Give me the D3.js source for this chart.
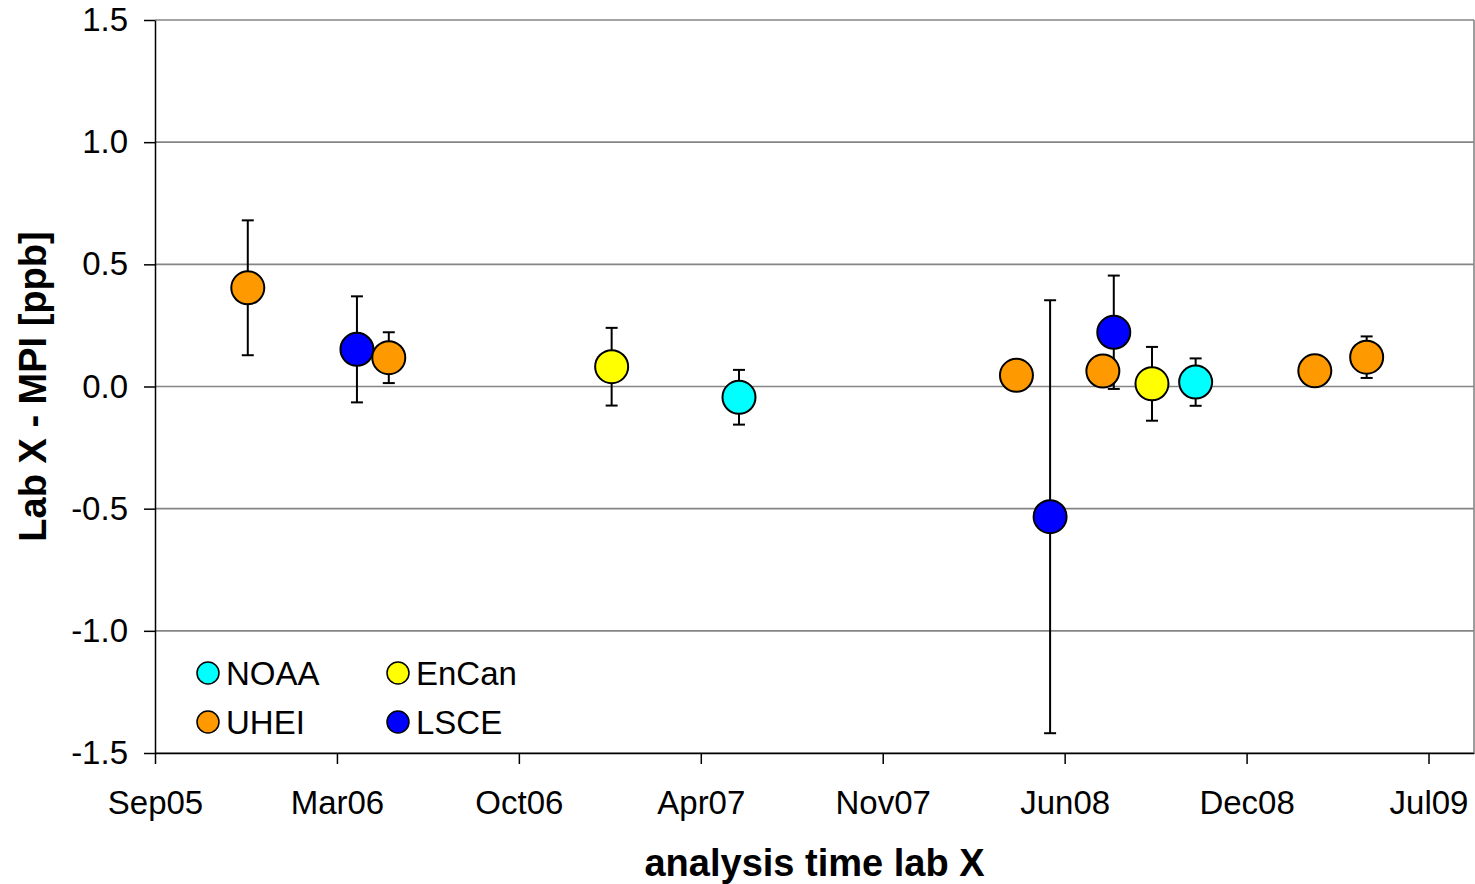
<!DOCTYPE html>
<html>
<head>
<meta charset="utf-8">
<script src="https://cdn.jsdelivr.net/npm/d3@7"></script>
<style>
  html, body { margin: 0; padding: 0; background: #fff; }
  svg { display: block; font-family: "Liberation Sans", Arial, sans-serif; }
</style>
</head>
<body>
<svg id="chart" width="1475" height="884"></svg>
<script>
// Inter-laboratory comparison: Lab X minus MPI, with ±1σ error bars
const seriesNames  = ["NOAA", "EnCan", "UHEI", "LSCE"];
const seriesColors = ["#00FFFF", "#FFFF00", "#FF9900", "#0000FF"];

const noaaDates  = ["2007-06-10", "2008-10-24"];
const noaaValues = [-0.044, 0.018];
const noaaErrors = [0.112, 0.097];

const encanDates  = ["2007-01-21", "2008-09-06"];
const encanValues = [0.081, 0.011];
const encanErrors = [0.159, 0.151];

const uheiDates  = ["2005-12-17", "2006-05-21", "2008-04-10", "2008-07-14", "2009-03-04", "2009-04-30"];
const uheiValues = [0.404, 0.118, 0.046, 0.063, 0.064, 0.120];
const uheiErrors = [0.276, 0.104, null, null, null, 0.085];

const lsceDates  = ["2006-04-16", "2008-05-17", "2008-07-26"];
const lsceValues = [0.152, -0.533, 0.222];
const lsceErrors = [0.217, 0.886, 0.232];

const yTickValues = [-1.5, -1.0, -0.5, 0.0, 0.5, 1.0, 1.5];
const yTickLabels = ["-1.5", "-1.0", "-0.5", "0.0", "0.5", "1.0", "1.5"];
const xTickLabels = ["Sep05", "Mar06", "Oct06", "Apr07", "Nov07", "Jun08", "Dec08", "Jul09"];
const xStart = "2005-09-06";   // first date-axis tick
const xStepDays = 200;         // date-axis major unit
const xSpanDays = 1450;        // axis length in days

const xTitle = "analysis time lab X";
const yTitle = "Lab X - MPI [ppb]";

const parse = d3.utcParse("%Y-%m-%d");
function build(name, dates, values, errors) {
  return dates.map((d, i) => ({ series: name, date: parse(d), value: values[i], err: errors[i] }));
}
const data = {
  NOAA: build("NOAA", noaaDates, noaaValues, noaaErrors),
  EnCan: build("EnCan", encanDates, encanValues, encanErrors),
  UHEI: build("UHEI", uheiDates, uheiValues, uheiErrors),
  LSCE: build("LSCE", lsceDates, lsceValues, lsceErrors)
};
const color = d3.scaleOrdinal().domain(seriesNames).range(seriesColors);

const svg = d3.select("#chart");
const plotLeft = 155, plotRight = 1474, plotTop = 20, plotBottom = 753;

const t0 = parse(xStart);
const x = d3.scaleUtc()
  .domain([t0, d3.utcDay.offset(t0, xSpanDays)])
  .range([plotLeft, plotRight]);
const xTickDates = xTickLabels.map((_, i) => d3.utcDay.offset(t0, xStepDays * i));

const y = d3.scaleLinear().domain([-1.5, 1.5]).range([plotBottom, plotTop]);

// horizontal gridlines
svg.append("g")
  .selectAll("line")
  .data(yTickValues)
  .join("line")
  .attr("x1", plotLeft).attr("x2", plotRight)
  .attr("y1", d => y(d)).attr("y2", d => y(d))
  .attr("stroke", "#858585")
  .attr("stroke-width", 1.6);

// right plot-area border
svg.append("line")
  .attr("x1", plotRight).attr("x2", plotRight)
  .attr("y1", plotTop).attr("y2", plotBottom)
  .attr("stroke", "#858585")
  .attr("stroke-width", 1.6);

// y axis
const yAxis = svg.append("g")
  .attr("transform", `translate(${plotLeft},0)`)
  .call(d3.axisLeft(y)
    .tickValues(yTickValues)
    .tickSize(11)
    .tickSizeOuter(0)
    .tickPadding(16)
    .tickFormat((d, i) => yTickLabels[i]));
yAxis.select(".domain").attr("stroke", "#000").attr("stroke-width", 1.5);
yAxis.selectAll(".tick line").attr("stroke", "#000").attr("stroke-width", 1.5);
yAxis.selectAll(".tick text")
  .attr("font-size", 33)
  .attr("fill", "#000")
  .attr("font-family", "Liberation Sans, Arial, sans-serif");

// x axis
const xAxis = svg.append("g")
  .attr("transform", `translate(0,${plotBottom})`)
  .call(d3.axisBottom(x)
    .tickValues(xTickDates)
    .tickSize(11)
    .tickSizeOuter(0)
    .tickPadding(27)
    .tickFormat((d, i) => xTickLabels[i]));
xAxis.select(".domain").attr("stroke", "#000").attr("stroke-width", 1.5);
xAxis.selectAll(".tick line").attr("stroke", "#000").attr("stroke-width", 1.5);
xAxis.selectAll(".tick text")
  .attr("font-size", 33)
  .attr("fill", "#000")
  .attr("font-family", "Liberation Sans, Arial, sans-serif");

// axis titles
svg.append("text")
  .attr("x", (plotLeft + plotRight) / 2)
  .attr("y", 876)
  .attr("text-anchor", "middle")
  .attr("font-size", 38)
  .attr("font-weight", "bold")
  .text(xTitle);

svg.append("text")
  .attr("transform", `translate(46,${(plotTop + plotBottom) / 2}) rotate(-90)`)
  .attr("text-anchor", "middle")
  .attr("font-size", 38)
  .attr("font-weight", "bold")
  .text(yTitle);

// error bars (drawn beneath all markers)
const capHalf = 6;
const allPoints = seriesNames.flatMap(s => data[s]).filter(d => d.err != null);
const eb = svg.append("g").attr("stroke", "#000").attr("stroke-width", 2);
eb.selectAll("line.stem")
  .data(allPoints)
  .join("line")
  .attr("class", "stem")
  .attr("x1", d => x(d.date)).attr("x2", d => x(d.date))
  .attr("y1", d => y(d.value - d.err)).attr("y2", d => y(d.value + d.err));
eb.selectAll("line.capTop")
  .data(allPoints)
  .join("line")
  .attr("class", "capTop")
  .attr("x1", d => x(d.date) - capHalf).attr("x2", d => x(d.date) + capHalf)
  .attr("y1", d => y(d.value + d.err)).attr("y2", d => y(d.value + d.err));
eb.selectAll("line.capBot")
  .data(allPoints)
  .join("line")
  .attr("class", "capBot")
  .attr("x1", d => x(d.date) - capHalf).attr("x2", d => x(d.date) + capHalf)
  .attr("y1", d => y(d.value - d.err)).attr("y2", d => y(d.value - d.err));

// markers
const drawOrder = ["LSCE", "NOAA", "EnCan", "UHEI"];
drawOrder.forEach(s => {
  svg.append("g")
    .selectAll("circle")
    .data(data[s])
    .join("circle")
    .attr("cx", d => x(d.date))
    .attr("cy", d => y(d.value))
    .attr("r", 16.5)
    .attr("fill", color(s))
    .attr("stroke", "#000")
    .attr("stroke-width", 2);
});

// legend (two columns)
const legendLayout = [
  { name: "NOAA", col: 0, row: 0 },
  { name: "EnCan", col: 1, row: 0 },
  { name: "UHEI", col: 0, row: 1 },
  { name: "LSCE", col: 1, row: 1 }
];
const legend = svg.append("g").attr("transform", "translate(208,673)");
const item = legend.selectAll("g")
  .data(legendLayout)
  .join("g")
  .attr("transform", d => `translate(${d.col * 190},${d.row * 49})`);
item.append("circle")
  .attr("r", 11)
  .attr("fill", d => color(d.name))
  .attr("stroke", "#000")
  .attr("stroke-width", 1.5);
item.append("text")
  .attr("x", 18)
  .attr("y", 12)
  .attr("font-size", 33)
  .text(d => d.name);
</script>
</body>
</html>
